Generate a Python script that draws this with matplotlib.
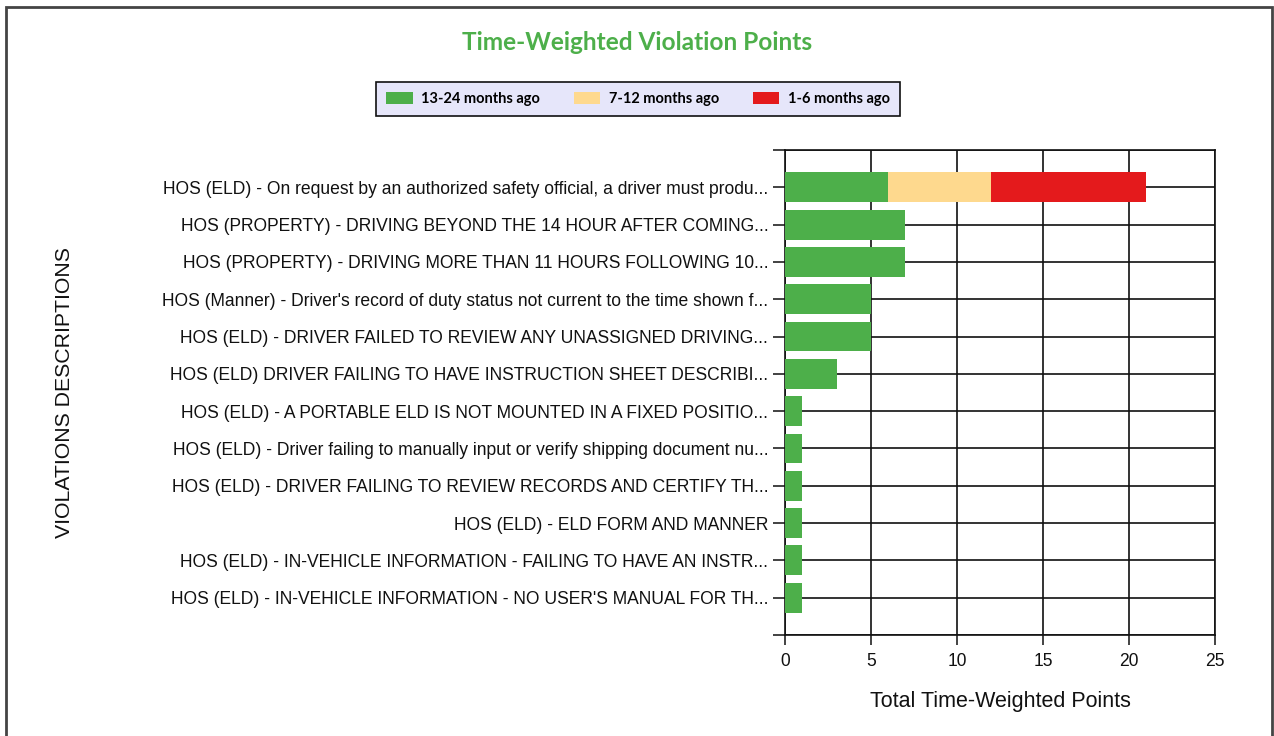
import matplotlib
matplotlib.use("Agg")
import matplotlib.pyplot as plt
from matplotlib.patches import Rectangle
import numpy as np


violations = [
    "HOS (ELD) - On request by an authorized safety official, a driver must produ...",
    "HOS (PROPERTY) - DRIVING BEYOND THE 14 HOUR AFTER COMING...",
    "HOS (PROPERTY) - DRIVING MORE THAN 11 HOURS FOLLOWING 10...",
    "HOS (Manner) - Driver's record of duty status not current to the time shown f...",
    "HOS (ELD) - DRIVER FAILED TO REVIEW ANY UNASSIGNED DRIVING...",
    "HOS (ELD) DRIVER FAILING TO HAVE INSTRUCTION SHEET DESCRIBI...",
    "HOS (ELD) - A PORTABLE ELD IS NOT MOUNTED IN A FIXED POSITIO...",
    "HOS (ELD) - Driver failing to manually input or verify shipping document nu...",
    "HOS (ELD) - DRIVER FAILING TO REVIEW RECORDS AND CERTIFY TH...",
    "HOS (ELD) - ELD FORM AND MANNER",
    "HOS (ELD) - IN-VEHICLE INFORMATION - FAILING TO HAVE AN INSTR...",
    "HOS (ELD) - IN-VEHICLE INFORMATION - NO USER'S MANUAL FOR TH...",
]
points_13_24 = [6, 7, 7, 5, 5, 3, 1, 1, 1, 1, 1, 1]
points_7_12 = [6, 0, 0, 0, 0, 0, 0, 0, 0, 0, 0, 0]
points_1_6 = [9, 0, 0, 0, 0, 0, 0, 0, 0, 0, 0, 0]

series = [
    ("13-24 months ago", points_13_24, "#4DAF4A"),
    ("7-12 months ago", points_7_12, "#FED98E"),
    ("1-6 months ago", points_1_6, "#E41A1C"),
]

W, H = 1274, 736
fig = plt.figure(figsize=(W / 100, H / 100), dpi=100)
ax = fig.add_axes([785 / W, 1 - 635 / H, 430 / W, 485 / H])

n = len(violations)
y = np.arange(n)
left = np.zeros(n)
handles = []
for label, vals, color in series:
    vals = np.array(vals, dtype=float)
    b = ax.barh(y, vals, left=left, height=0.8, color=color, label=label, zorder=3)
    handles.append(b)
    left += vals

ax.set_xlim(0, 25)
ax.set_ylim(n, -1)
ax.set_xticks(np.arange(0, 26, 5))
# ticks at the edges too, so the top/bottom lines get a tick mark
ticks = np.arange(-1, n + 1)
ax.set_yticks(ticks)
ax.set_yticklabels([""] + violations + [""])

for lbl in ax.get_yticklabels() + ax.get_xticklabels():
    lbl.set_fontfamily("Liberation Sans")
    lbl.set_fontsize(12.65)
    lbl.set_color("#111111")

ax.tick_params(axis="y", length=9, width=1.2, color="#222222", pad=3)
ax.tick_params(axis="x", length=7, width=1.2, color="#222222", pad=6)
ax.grid(True, color="#111111", linewidth=1.2, zorder=0)
ax.set_axisbelow(True)
for side in ["left", "right", "top", "bottom"]:
    ax.spines[side].set_color("#111111")
    ax.spines[side].set_linewidth(1.2)

ax.set_xlabel("Total Time-Weighted Points", fontfamily="Liberation Sans",
              fontsize=15.5, color="#111111", labelpad=15)
fig.text(65 / W, 1 - 393 / H, "VIOLATIONS DESCRIPTIONS", rotation=90,
         ha="center", va="center", fontfamily="Liberation Sans",
         fontsize=15.3, color="#111111")

fig.text(637 / W, 1 - 43 / H, "Time-Weighted Violation Points",
         ha="center", va="center", fontfamily="Lato", fontweight="bold",
         fontsize=17.6, color="#4DAF4A")

leg = fig.legend(handles=handles, loc="center", ncol=3,
                 bbox_to_anchor=(638 / W, 1 - 99 / H),
                 prop={"family": "Lato", "weight": "bold", "size": 10.5},
                 frameon=True, fancybox=False, edgecolor="#111111",
                 facecolor="#E6E6FA", framealpha=1,
                 handlelength=1.8, handleheight=0.9, columnspacing=2.3,
                 borderpad=0.7, handletextpad=0.6)
leg.get_frame().set_linewidth(1.2)

fig.patches.append(Rectangle((6 / W, -0.1), 1266 / W, 1.1 - 7 / H,
                             transform=fig.transFigure, fill=False,
                             edgecolor="#444444", linewidth=2))

fig.savefig("out.png", dpi=100)
